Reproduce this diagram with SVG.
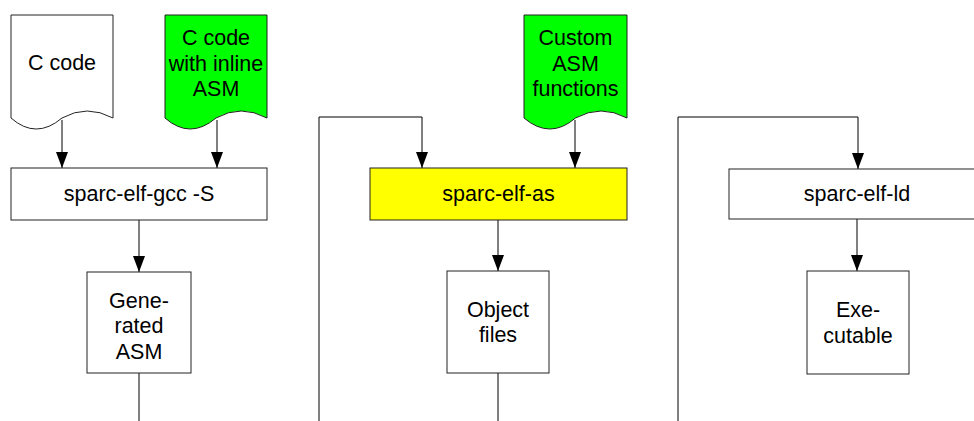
<svg xmlns="http://www.w3.org/2000/svg" width="974" height="421" viewBox="0 0 974 421">
<defs>
<marker id="arr" markerWidth="16" markerHeight="12" refX="16" refY="6" orient="auto" markerUnits="userSpaceOnUse" viewBox="0 0 16 12">
<path d="M0,0 L16,6 L0,12 Z" fill="#000"/>
</marker>
<style>
.shape{stroke:#222;stroke-width:1}
.txt{font-family:"Liberation Sans",Arial,sans-serif;font-size:21.5px;fill:#000;text-anchor:middle}
.conn{fill:none;stroke:#000;stroke-width:1}
</style>
</defs>
<rect width="974" height="421" fill="#fff"/>
<g id="connectors">
<path class="conn" d="M62,120 V168" marker-end="url(#arr)"/>
<path class="conn" d="M217,120 V168" marker-end="url(#arr)"/>
<path class="conn" d="M139,220 V272" marker-end="url(#arr)"/>
<path class="conn" d="M139,373 V421"/>
<path class="conn" d="M319,421 V117 H422 V168" marker-end="url(#arr)"/>
<path class="conn" d="M575,120 V168" marker-end="url(#arr)"/>
<path class="conn" d="M498,220 V271" marker-end="url(#arr)"/>
<path class="conn" d="M498,373 V421"/>
<path class="conn" d="M678,421 V117 H858 V169" marker-end="url(#arr)"/>
<path class="conn" d="M857,219 V271" marker-end="url(#arr)"/>
</g>
<g id="c-code">
<path class="shape" fill="#fff" d="M11,15 H113 V118 Q87,104 62,118 Q36,140 11,118 Z"/>
<text class="txt" x="62" y="69.5">C code</text>
</g>
<g id="c-inline-asm">
<path class="shape" fill="#00ff00" d="M165,15 H267 V118 Q241,104 216,118 Q190,140 165,118 Z"/>
<text class="txt" x="216" y="45">C code</text>
<text class="txt" x="216" y="70.5">with inline</text>
<text class="txt" x="216" y="96">ASM</text>
</g>
<g id="gcc">
<rect class="shape" fill="#fff" x="11" y="168" width="256" height="52"/>
<text class="txt" x="139" y="201">sparc-elf-gcc -S</text>
</g>
<g id="generated-asm">
<rect class="shape" fill="#fff" x="87" y="272" width="104" height="101"/>
<text class="txt" x="139" y="307.5">Gene-</text>
<text class="txt" x="139" y="333">rated</text>
<text class="txt" x="139" y="358.5">ASM</text>
</g>
<g id="custom-asm">
<path class="shape" fill="#00ff00" d="M524,15 H627 V118 Q601,104 575.5,118 Q550,140 524,118 Z"/>
<text class="txt" x="575.5" y="45">Custom</text>
<text class="txt" x="575.5" y="70.5">ASM</text>
<text class="txt" x="575.5" y="96">functions</text>
</g>
<g id="as">
<rect class="shape" fill="#ffff00" x="370" y="168" width="257" height="52"/>
<text class="txt" x="498.5" y="201">sparc-elf-as</text>
</g>
<g id="object-files">
<rect class="shape" fill="#fff" x="447" y="271" width="102" height="102"/>
<text class="txt" x="498" y="316.5">Object</text>
<text class="txt" x="498" y="342">files</text>
</g>
<g id="ld">
<rect class="shape" fill="#fff" x="729" y="169" width="256" height="50"/>
<text class="txt" x="857" y="201">sparc-elf-ld</text>
</g>
<g id="executable">
<rect class="shape" fill="#fff" x="807" y="271" width="102" height="103"/>
<text class="txt" x="858" y="317">Exe-</text>
<text class="txt" x="858" y="343">cutable</text>
</g>
</svg>
